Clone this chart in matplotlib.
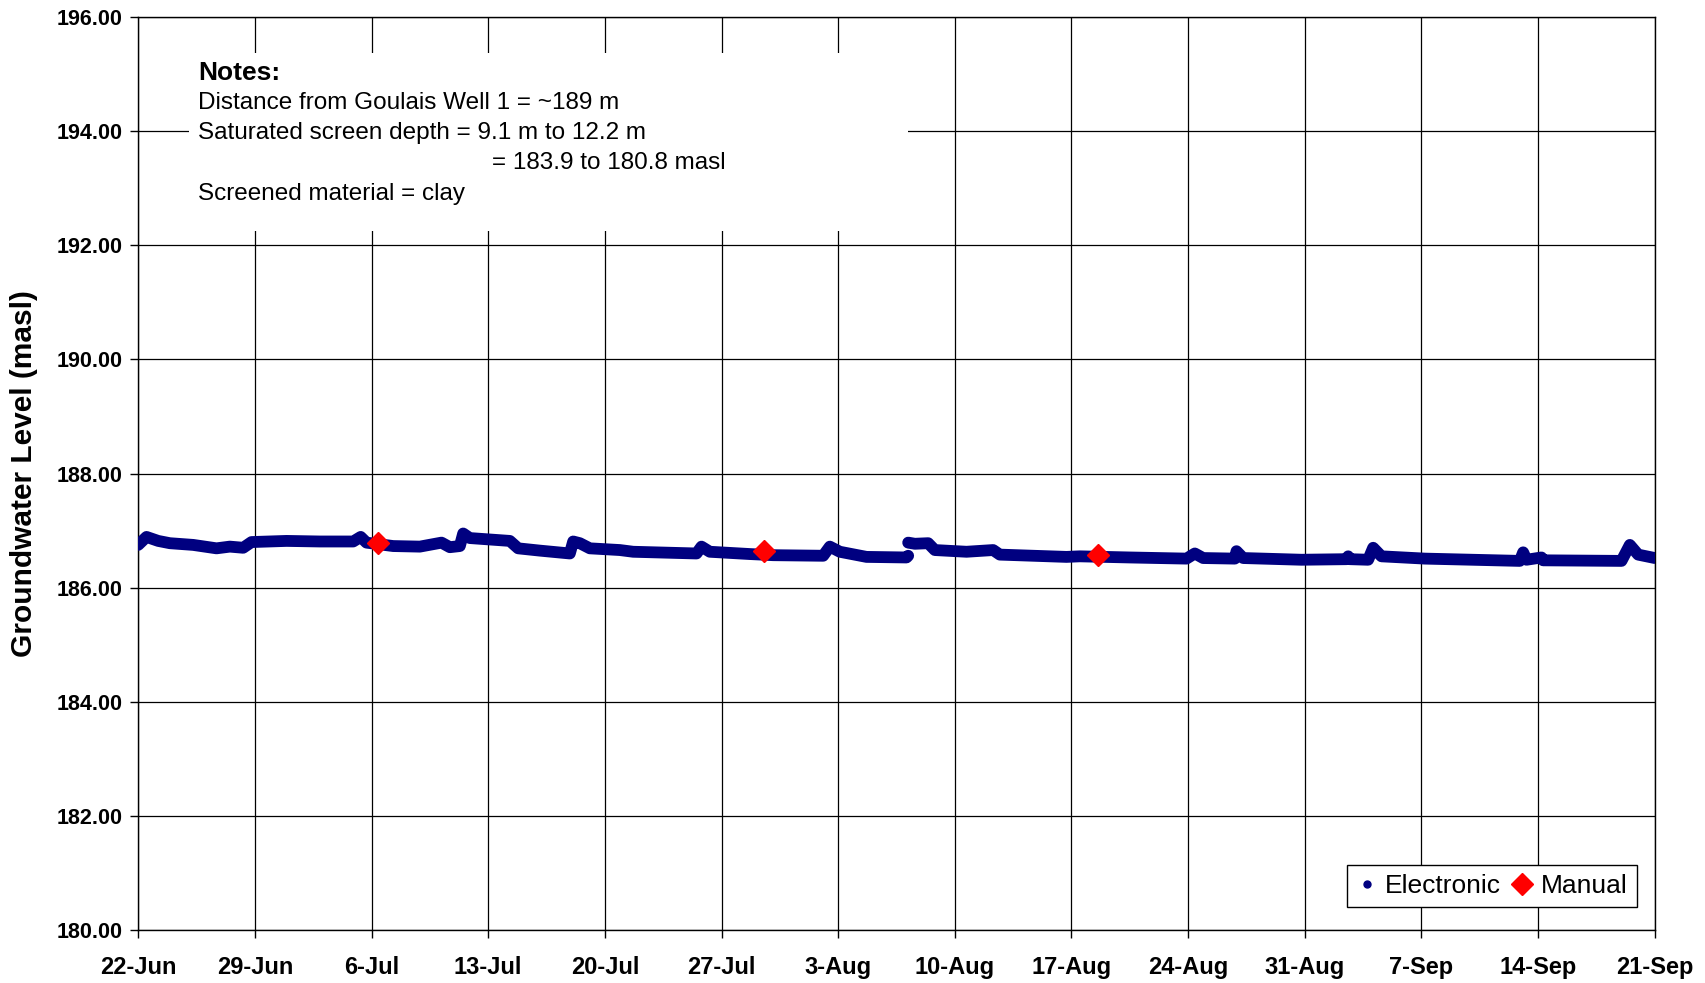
import numpy as np
import pandas as pd
import matplotlib
matplotlib.use("Agg")
import matplotlib.pyplot as plt
import matplotlib.dates as mdates
from matplotlib.lines import Line2D
from matplotlib.patches import Rectangle

plt.rcParams['font.family'] = ['Liberation Sans', 'DejaVu Sans']

start = pd.Timestamp('2008-06-22')

# electronic logger (days after 22-Jun, masl); nan = gap in record
elec_day = [0.0, 0.5, 1.2, 1.9, 3.3, 4.7, 5.5, 6.3, 6.8, 8.9, 10.9, 12.9, 13.35, 13.7,
            15.3, 16.9, 18.2, 18.7, 19.3, 19.5, 19.9, 22.3, 22.8, 24.1, 25.9, 26.1,
            26.5, 27.1, 28.9, 29.7, 33.5, 33.8, 34.3, 36.7, 38.1, 41.1, 41.5, 42.1,
            43.7, 46.1, 46.2, 46.2, 46.2, 46.6, 47.4, 47.8, 49.7, 51.3, 51.7, 55.7,
            56.5, 59.5, 62.9, 63.4, 63.9, 65.8, 65.9, 66.3, 69.8, 72.5, 72.6, 72.7,
            73.8, 74.1, 74.6, 77.2, 82.9, 83.1, 83.3, 84.2, 84.3, 89.0, 89.5, 90.0,
            91.0]
elec_lvl = [186.75, 186.89, 186.82, 186.78, 186.75, 186.69, 186.72, 186.70, 186.80,
            186.82, 186.81, 186.81, 186.89, 186.79, 186.73, 186.72, 186.79, 186.71,
            186.73, 186.95, 186.87, 186.82, 186.69, 186.65, 186.60, 186.81, 186.78,
            186.69, 186.66, 186.63, 186.60, 186.72, 186.63, 186.59, 186.57, 186.56,
            186.72, 186.63, 186.54, 186.53, 186.56, np.nan, 186.79, 186.77, 186.78,
            186.66, 186.63, 186.66, 186.58, 186.54, 186.55, 186.53, 186.51, 186.60,
            186.52, 186.51, 186.64, 186.52, 186.49, 186.50, 186.55, 186.50, 186.49,
            186.70, 186.55, 186.51, 186.47, 186.62, 186.49, 186.53, 186.48, 186.47,
            186.75, 186.58, 186.52]

# manual measurements
man_day = [14.4, 37.55, 57.6]
man_lvl = [186.79, 186.65, 186.57]

notes = ['Distance from Goulais Well 1 = ~189 m',
         'Saturated screen depth = 9.1 m to 12.2 m',
         '= 183.9 to 180.8 masl',
         'Screened material = clay']

elec_t = start + pd.to_timedelta(elec_day, unit='D')
man_t = start + pd.to_timedelta(man_day, unit='D')

fig = plt.figure(figsize=(17.06, 9.83), dpi=100)
ax = fig.add_axes([0.081, 0.0537, 0.889, 0.9291])

ax.plot(elec_t, elec_lvl, color='#000080', lw=8.5, solid_capstyle='round',
        solid_joinstyle='round', zorder=3)
ax.plot(man_t, man_lvl, ls='', marker='D', ms=11.5, color='#ff0000', zorder=4)

ax.set_ylim(180, 196)
ax.set_yticks(np.arange(180, 197, 2))
ax.yaxis.set_major_formatter(plt.FormatStrFormatter('%.2f'))
ax.set_xlim(start, start + pd.Timedelta(days=91))
ax.set_xticks(start + pd.to_timedelta(np.arange(0, 92, 7), unit='D'))
ax.xaxis.set_major_formatter(mdates.DateFormatter('%-d-%b'))

ax.set_axisbelow(True)
ax.grid(True, color='black', lw=0.9)
for s in ax.spines.values():
    s.set_linewidth(1.0)
ax.tick_params(axis='y', direction='out', length=6, width=1, pad=5, labelsize=15.5)
ax.tick_params(axis='x', direction='out', length=6, width=1, pad=12.5, labelsize=17)
for lab in ax.get_xticklabels() + ax.get_yticklabels():
    lab.set_fontweight('bold')

ax.set_ylabel('Groundwater Level (masl)', fontsize=21.5, fontweight='bold')
ax.yaxis.set_label_coords(-0.066, 0.5)

# notes box
ax.add_patch(Rectangle((0.0335, 0.7656), 0.474, 0.195, transform=ax.transAxes,
                       facecolor='white', edgecolor='none', zorder=1))
ax.text(0.0394, 0.9387, 'Notes:', transform=ax.transAxes, fontsize=19,
        fontweight='bold', va='center', zorder=2)
ax.text(0.0394, 0.9053, notes[0], transform=ax.transAxes, fontsize=17.5, va='center', zorder=2)
ax.text(0.0394, 0.8731, notes[1], transform=ax.transAxes, fontsize=17.5, va='center', zorder=2)
ax.text(0.2333, 0.8398, notes[2], transform=ax.transAxes, fontsize=17.5, va='center', zorder=2)
ax.text(0.0394, 0.8064, notes[3], transform=ax.transAxes, fontsize=17.5, va='center', zorder=2)

handles = [Line2D([], [], ls='', marker='o', ms=5, color='#000080'),
           Line2D([], [], ls='', marker='D', ms=11, color='#ff0000')]
leg = ax.legend(handles, ['Electronic', 'Manual'], ncol=2, loc='lower right',
                bbox_to_anchor=(0.988, 0.025), borderaxespad=0, fontsize=19,
                fancybox=False, framealpha=1, edgecolor='black',
                handlelength=0.8, handletextpad=0.3, columnspacing=0.4,
                borderpad=0.35)
leg.get_frame().set_linewidth(1.0)

fig.savefig('out.png', dpi=100)
